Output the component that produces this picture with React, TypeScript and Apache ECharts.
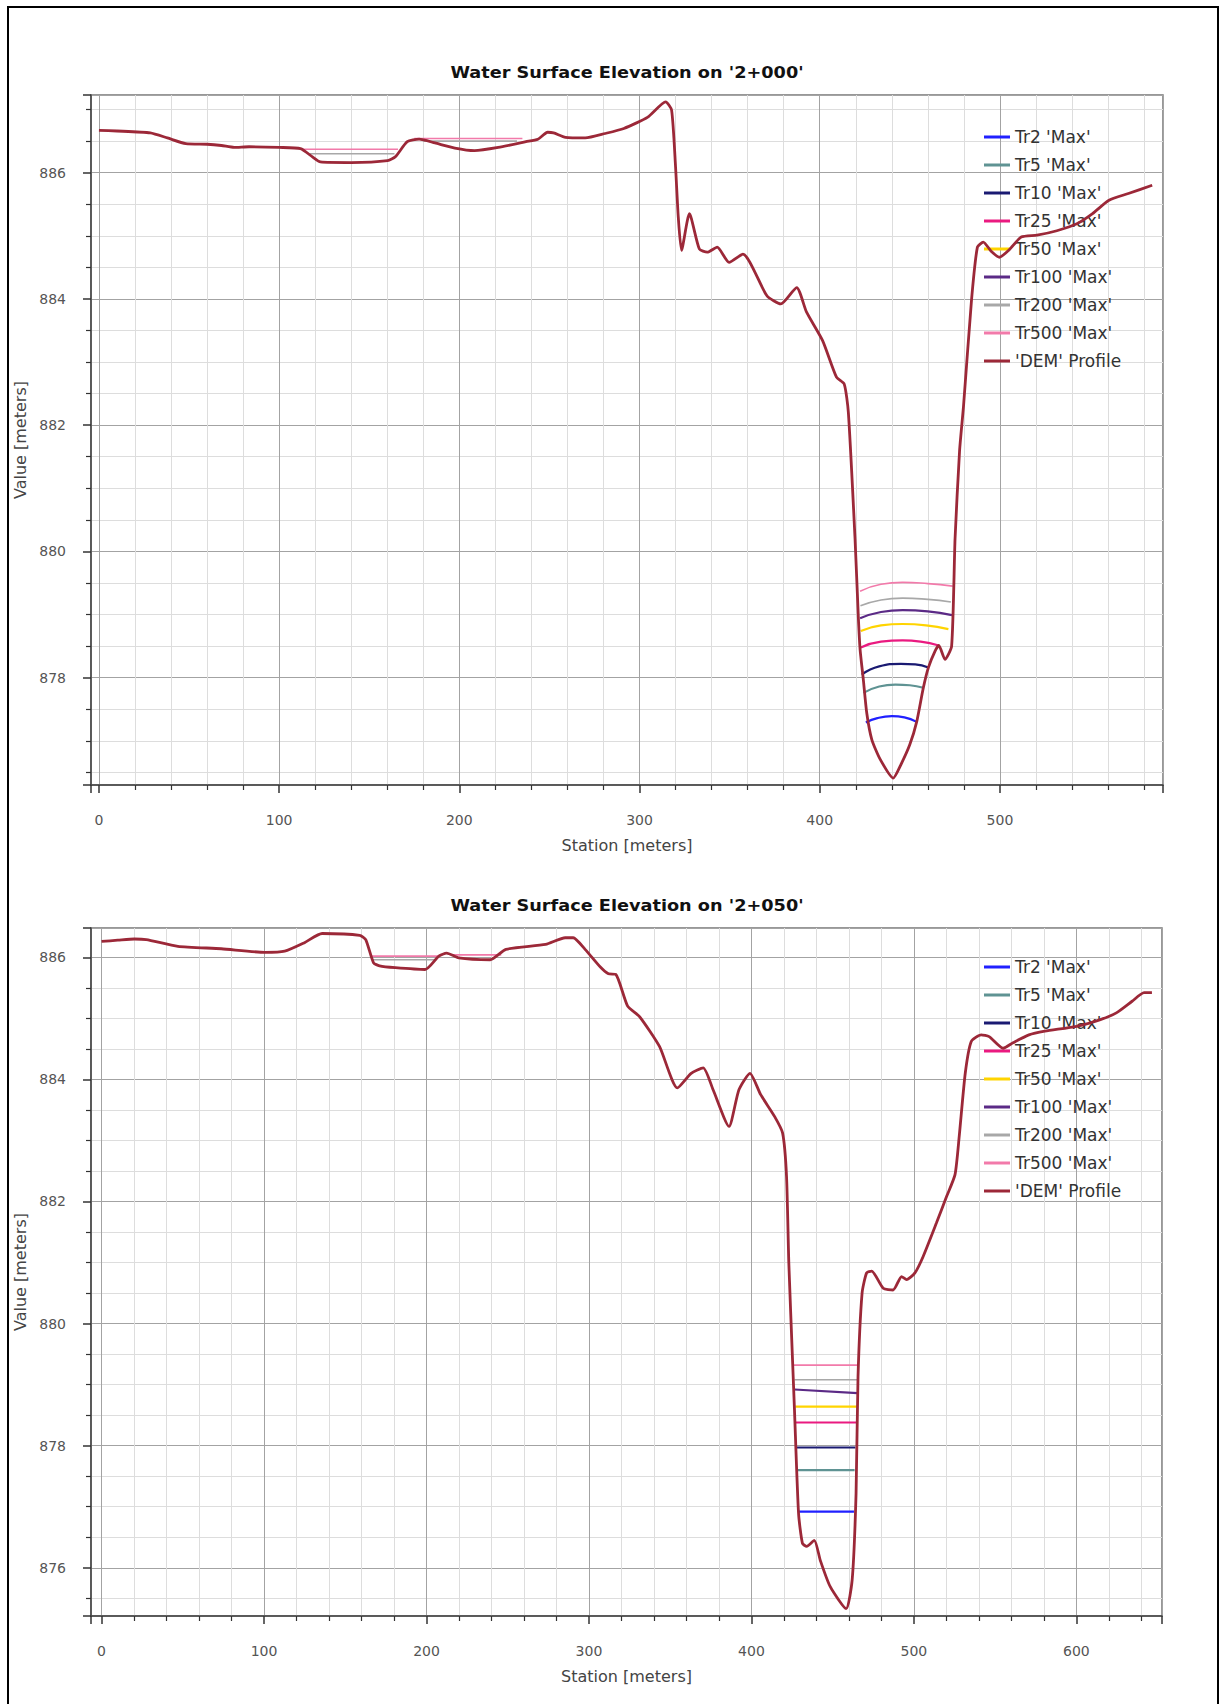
import React, { useEffect, useRef } from "react";
import * as echarts from "echarts";

type P = [number, number];

// ---------- Chart 1: '2+000' ----------
const TOP_TITLE = "Water Surface Elevation on '2+000'";
const TOP_X_RANGE = [-4.4, 590.5];
const TOP_Y_RANGE = [876.3, 887.23];

const TOP_DEM: P[] = [
  [0, 886.67], [10, 886.66], [28.5, 886.63], [38, 886.55], [48.2, 886.46], [60, 886.45], [68, 886.43],
  [75, 886.4], [83.3, 886.41], [100, 886.4], [111.9, 886.38], [118.5, 886.25], [122.9, 886.17],
  [140, 886.16], [160.2, 886.19], [164.5, 886.25], [171.1, 886.49], [177.7, 886.53], [186.5, 886.47],
  [197.5, 886.39], [208.4, 886.35], [221.6, 886.4], [237, 886.49], [243.6, 886.53], [249, 886.64],
  [252.3, 886.63], [258.9, 886.56], [269.9, 886.55], [280.9, 886.62], [291.3, 886.7], [304.6, 886.88],
  [314.5, 887.12], [317.8, 886.99], [320, 886.09], [321.5, 885.3], [323.3, 884.77], [327.7, 885.35],
  [333.2, 884.79], [337.6, 884.74], [343.1, 884.82], [349.7, 884.58], [357.4, 884.71], [370.7, 884.05],
  [378.4, 883.92], [387.2, 884.18], [392.7, 883.79], [401.6, 883.34], [409.3, 882.76], [413.6, 882.65],
  [415.9, 882.2], [419.6, 880.2], [421.4, 878.98], [422.4, 878.45], [424.2, 877.97], [426.1, 877.44],
  [428.9, 877.02], [433.5, 876.71], [440.8, 876.41], [445, 876.62], [450, 876.94], [453.8, 877.3],
  [457.5, 877.84], [460.3, 878.16], [464, 878.42], [466.1, 878.51], [469.5, 878.29], [473.2, 878.5],
  [475.1, 880.2], [477.6, 881.59], [479.8, 882.3], [484.2, 883.97], [487.5, 884.82], [490.8, 884.9],
  [495, 884.76], [499.7, 884.66], [505.2, 884.78], [511.8, 884.98], [520.6, 885.01], [531.6, 885.08],
  [542.7, 885.19], [551.4, 885.35], [560.3, 885.56], [571.3, 885.67], [584.5, 885.8],
];

const TOP_TR2: P[] = [[425.6, 877.29], [432, 877.36], [440, 877.39], [447, 877.37], [453.8, 877.3]];
const TOP_TR5: P[] = [[424.3, 877.76], [433, 877.86], [442, 877.89], [450, 877.88], [457.5, 877.84]];
const TOP_TR10: P[] = [[423.3, 878.05], [433, 878.18], [445, 878.22], [453, 878.21], [460.3, 878.16]];
const TOP_TR25: P[] = [[422.8, 878.48], [434, 878.57], [446, 878.59], [456, 878.57], [466.1, 878.51]];
const TOP_TR50: P[] = [[422.8, 878.74], [434, 878.83], [446, 878.85], [459, 878.83], [471.4, 878.77]];
const TOP_TR100: P[] = [[422.4, 878.94], [434, 879.04], [446, 879.07], [460, 879.05], [473.4, 878.99]];
const TOP_TR200: P[] = [[422.6, 879.14], [434, 879.23], [446, 879.26], [460, 879.24], [472.8, 879.2]];
const TOP_TR500: P[] = [[422.4, 879.37], [434, 879.48], [446, 879.51], [460, 879.49], [473.8, 879.45]];
const TOP_POND_TR200: P[][] = [[[117, 886.3], [164, 886.3]], [[180, 886.5], [232, 886.5]]];
const TOP_POND_TR500: P[][] = [[[112, 886.37], [166, 886.37]], [[175, 886.54], [235, 886.54]]];

// ---------- Chart 2: '2+050' ----------
const BOT_TITLE = "Water Surface Elevation on '2+050'";
const BOT_X_RANGE = [-6.5, 652.7];
const BOT_Y_RANGE = [875.21, 886.48];

const BOT_DEM: P[] = [
  [0, 886.26], [10, 886.28], [20.2, 886.3], [27.5, 886.29], [47, 886.18], [73.7, 886.14], [100.5, 886.08],
  [112.7, 886.1], [124.9, 886.24], [135.8, 886.39], [158.9, 886.36], [162.6, 886.29], [167.4, 885.91],
  [171.1, 885.86], [180.8, 885.83], [199.1, 885.8], [207.6, 886.02], [212.4, 886.07], [219.8, 885.99],
  [239.2, 885.96], [248.9, 886.13], [273.3, 886.21], [285.4, 886.32], [290.3, 886.32], [297.6, 886.13],
  [307, 885.84], [312, 885.73], [316.5, 885.72], [323.8, 885.2], [331.1, 885.03], [343.4, 884.54],
  [354.4, 883.86], [362.9, 884.1], [370.3, 884.19], [376.4, 883.83], [386.2, 883.23], [392.3, 883.83],
  [399.1, 884.1], [405.7, 883.75], [414.3, 883.39], [419.2, 883.12], [421.6, 882.41], [423, 881.0],
  [425.3, 879.4], [426.5, 878.58], [429, 876.89], [431.4, 876.4], [434, 876.35], [438.7, 876.45],
  [442.4, 876.12], [448.5, 875.69], [458.3, 875.33], [462, 875.8], [464.4, 877.22], [465.6, 879.13],
  [468.1, 880.5], [470.9, 880.83], [474, 880.86], [481.1, 880.58], [487.2, 880.55], [492.4, 880.77],
  [495.5, 880.72], [500.6, 880.83], [505.7, 881.1], [513.9, 881.65], [520.1, 882.08], [525.3, 882.44],
  [527.9, 883.07], [531.6, 884.1], [535.3, 884.62], [541.4, 884.73], [546.3, 884.7], [554.9, 884.51],
  [561, 884.6], [570.8, 884.73], [580.6, 884.79], [600.1, 884.87], [614.8, 884.98], [624.6, 885.09],
  [634.3, 885.28], [641.7, 885.42], [646.5, 885.42],
];

const BOT_TR2: P[] = [[429, 876.92], [463.1, 876.92]];
const BOT_TR5: P[] = [[428.5, 877.6], [463.5, 877.6]];
const BOT_TR10: P[] = [[427.5, 877.97], [464, 877.97]];
const BOT_TR25: P[] = [[427, 878.38], [464.5, 878.38]];
const BOT_TR50: P[] = [[427, 878.64], [465, 878.64]];
const BOT_TR100: P[] = [[426.5, 878.92], [465.3, 878.86]];
const BOT_TR200: P[] = [[426.5, 879.08], [465.5, 879.08]];
const BOT_TR500: P[] = [[426, 879.32], [465.8, 879.32]];
const BOT_POND_TR200: P[][] = [[[166.5, 885.96], [205, 885.96]]];
const BOT_POND_TR500: P[][] = [[[166, 886.02], [207, 886.02]], [[215, 886.04], [246, 886.04]]];

// ---------- Legend ----------
const NAMES = ["Tr2 'Max'", "Tr5 'Max'", "Tr10 'Max'", "Tr25 'Max'", "Tr50 'Max'", "Tr100 'Max'", "Tr200 'Max'", "Tr500 'Max'", "'DEM' Profile"];
const COLORS = ["#2020ff", "#5f9393", "#1a1a72", "#ea1a80", "#ffd400", "#5b2a86", "#a8a8a8", "#f27aaa", "#9c2838"];

const FONT = '"DejaVu Sans", sans-serif';

function xAxisDef(grid: number, range: number[]) {
  return {
    type: "value",
    gridIndex: grid,
    min: range[0],
    max: range[1],
    splitNumber: 6,
    minInterval: 100,
    maxInterval: 100,
    name: "Station [meters]",
    nameLocation: "middle",
    nameGap: 52,
    nameTextStyle: { fontFamily: FONT, fontSize: 16, color: "#444" },
    axisLine: { show: true, onZero: false, lineStyle: { color: "#444", width: 1.5 } },
    axisTick: { show: true, inside: false, length: 8, lineStyle: { color: "#333", width: 1.5 } },
    minorTick: { show: true, splitNumber: 5, length: 5, lineStyle: { color: "#333", width: 1.2 } },
    axisLabel: {
      margin: 28,
      fontFamily: FONT,
      fontSize: 14,
      color: "#555",
      formatter: (v: number) => (Math.abs(v - Math.round(v / 100) * 100) < 1e-6 ? String(Math.round(v)) : ""),
    },
    splitLine: { show: true, lineStyle: { color: "#a3a3a3", width: 1 } },
    minorSplitLine: { show: true, lineStyle: { color: "#dddddd", width: 1 } },
  };
}

function yAxisDef(grid: number, range: number[]) {
  return {
    type: "value",
    gridIndex: grid,
    min: range[0],
    max: range[1],
    splitNumber: 5,
    minInterval: 2,
    maxInterval: 2,
    name: "Value [meters]",
    nameLocation: "middle",
    nameGap: 57,
    nameTextStyle: { fontFamily: FONT, fontSize: 16, color: "#444" },
    axisLine: { show: true, onZero: false, lineStyle: { color: "#444", width: 1.5 } },
    axisTick: { show: true, inside: false, length: 8, lineStyle: { color: "#333", width: 1.5 } },
    minorTick: { show: true, splitNumber: 4, length: 5, lineStyle: { color: "#333", width: 1.2 } },
    axisLabel: {
      margin: 25,
      fontFamily: FONT,
      fontSize: 14,
      color: "#555",
      formatter: (v: number) => (Math.abs(v - Math.round(v / 2) * 2) < 1e-6 ? String(Math.round(v)) : ""),
    },
    splitLine: { show: true, lineStyle: { color: "#a3a3a3", width: 1 } },
    minorSplitLine: { show: true, lineStyle: { color: "#dddddd", width: 1 } },
  };
}

function lineSeries(name: string, color: string, data: P[], axis: number, width: number, smooth: number | boolean) {
  return {
    type: "line",
    name,
    xAxisIndex: axis,
    yAxisIndex: axis,
    data,
    showSymbol: false,
    symbol: "none",
    smooth,
    color,
    lineStyle: { color, width },
    emphasis: { disabled: true },
    silent: true,
    z: 3,
  };
}

function legendDef(top: number) {
  return {
    orient: "vertical",
    left: 984,
    top,
    padding: 0,
    itemWidth: 26,
    itemHeight: 3,
    itemGap: 8,
    icon: "rect",
    selectedMode: false,
    z: 1,
    textStyle: { fontFamily: FONT, fontSize: 17, color: "#333", lineHeight: 20 },
    data: NAMES,
  };
}

export default function App() {
  const ref = useRef<HTMLDivElement>(null);

  useEffect(() => {
    if (!ref.current) return;
    const chart = echarts.init(ref.current, undefined, { renderer: "svg" });

    const topWse = [TOP_TR2, TOP_TR5, TOP_TR10, TOP_TR25, TOP_TR50, TOP_TR100, TOP_TR200, TOP_TR500];
    const botWse = [BOT_TR2, BOT_TR5, BOT_TR10, BOT_TR25, BOT_TR50, BOT_TR100, BOT_TR200, BOT_TR500];

    const series: any[] = [];
    topWse.forEach((d, i) => series.push(lineSeries(NAMES[i], COLORS[i], d, 0, i >= 6 ? 1.6 : 2.2, 0.5)));
    TOP_POND_TR200.forEach((d) => series.push(lineSeries(NAMES[6], COLORS[6], d, 0, 1.6, false)));
    TOP_POND_TR500.forEach((d) => series.push(lineSeries(NAMES[7], COLORS[7], d, 0, 1.6, false)));
    series.push(lineSeries(NAMES[8], COLORS[8], TOP_DEM, 0, 2.8, 0.2));

    botWse.forEach((d, i) => series.push(lineSeries(NAMES[i], COLORS[i], d, 1, i >= 6 ? 1.6 : 2.2, false)));
    BOT_POND_TR200.forEach((d) => series.push(lineSeries(NAMES[6], COLORS[6], d, 1, 1.6, false)));
    BOT_POND_TR500.forEach((d) => series.push(lineSeries(NAMES[7], COLORS[7], d, 1, 1.6, false)));
    series.push(lineSeries(NAMES[8], COLORS[8], BOT_DEM, 1, 2.8, 0.2));

    const titleStyle = (text: string) => ({
      text,
      fontFamily: FONT,
      fontSize: 15,
      fontWeight: "bold",
      fill: "#111",
      align: "center",
      verticalAlign: "middle",
    });

    chart.setOption({
      animation: false,
      backgroundColor: "#ffffff",
      grid: [
        { left: 91, top: 95, width: 1072, height: 690, show: true, borderColor: "#777", borderWidth: 1.5, containLabel: false },
        { left: 91, top: 928, width: 1071, height: 688, show: true, borderColor: "#777", borderWidth: 1.5, containLabel: false },
      ],
      xAxis: [xAxisDef(0, TOP_X_RANGE), xAxisDef(1, BOT_X_RANGE)],
      yAxis: [yAxisDef(0, TOP_Y_RANGE), yAxisDef(1, BOT_Y_RANGE)],
      legend: [legendDef(127), legendDef(957)],
      graphic: [
        { type: "rect", shape: { x: 8, y: 7, width: 1210, height: 1710 }, style: { fill: "none", stroke: "#000", lineWidth: 2 }, silent: true },
        { type: "text", x: 627, y: 73, scaleX: 1.18, style: titleStyle(TOP_TITLE) },
        { type: "text", x: 627, y: 906, scaleX: 1.18, style: titleStyle(BOT_TITLE) },
      ],
      series,
    });

    return () => chart.dispose();
  }, []);

  return <div ref={ref} style={{ position: "absolute", left: 0, top: 0, width: 1223, height: 1704, background: "#fff" }} />;
}
